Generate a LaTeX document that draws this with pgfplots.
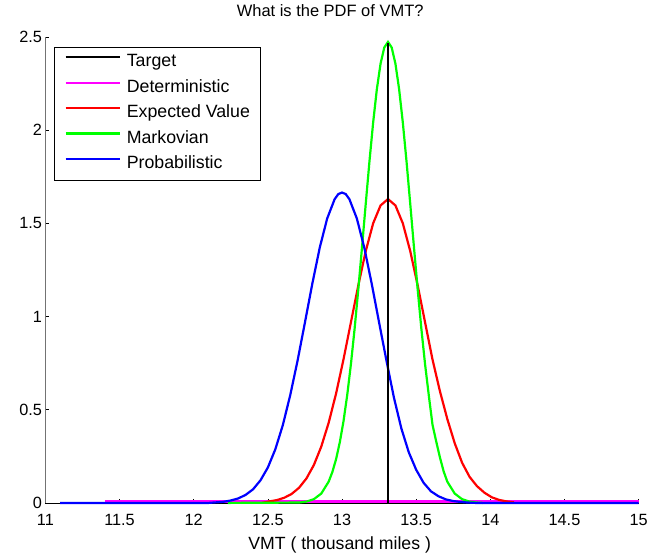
\documentclass[border=0pt]{standalone}
\usepackage{fontspec}
\setmainfont{Liberation Sans}
\usepackage{pgfplots}
\pgfplotsset{compat=1.18}
\definecolor{mag}{rgb}{1,0,1}
\definecolor{grn}{rgb}{0,1,0}
\begin{document}
\begin{tikzpicture}
\begin{axis}[
  scale only axis, width=594.5pt, height=467pt,
  xmin=11, xmax=15, ymin=0, ymax=2.5,
  xtick={11,11.5,...,15}, ytick={0,0.5,...,2.5},
  axis x line=bottom, axis y line=left,
  x axis line style={-, black, line width=0.8pt},
  y axis line style={-, black!55, line width=0.8pt},
  tick align=inside, major tick length=4pt,
  tick style={black, line width=0.6pt},
  /pgf/number format/assume math mode=true,
  ticklabel style={font=\fontsize{16.3}{19}\selectfont},
  xticklabel style={yshift=-7.5pt},
  title={What is the PDF of VMT?},
  title style={at={(rel axis cs:0.48,1)}, anchor=base, yshift=14pt, font=\fontsize{16.5}{19}\selectfont},
  xlabel={VMT ( thousand miles )},
  xlabel style={at={(rel axis cs:0.496,0)}, anchor=base, yshift=-47pt, font=\fontsize{17.7}{20}\selectfont},
  clip=false,
  legend cell align=left,
  legend image code/.code={\draw[#1] (0pt,5.5pt) -- (54pt,5.5pt);},
  legend style={at={(rel axis cs:0.0148,0.979)}, anchor=north west, draw=black, line width=0.6pt,
    font=\fontsize{17.8}{20}\selectfont, inner xsep=10pt, inner ysep=8pt,
    nodes={inner sep=0pt, text height=12pt, text depth=3.5pt}, row sep=10pt,
    /tikz/column sep=6pt},
]
\coordinate (O) at (rel axis cs:0,0);
\addplot[black, line width=2.5pt] coordinates {(13.31,0) (13.31,2.468)};
\addlegendentry{Target}
\addplot[mag, line width=2.2pt] coordinates {(11.4,0.008) (15,0.008)};
\addlegendentry{Deterministic}
\addplot[red, line width=2.2pt] coordinates {
(12.46,0) (12.51,0.008) (12.56,0.015) (12.61,0.0275) (12.66,0.048) (12.71,0.081) (12.76,0.131)
(12.81,0.203) (12.86,0.302) (12.91,0.430) (12.96,0.587) (13.01,0.770) (13.06,0.969)
(13.11,1.168) (13.16,1.351) (13.21,1.500) (13.26,1.596) (13.31,1.630) (13.36,1.596)
(13.41,1.500) (13.46,1.351) (13.51,1.168) (13.56,0.969) (13.61,0.770) (13.66,0.600)
(13.71,0.450) (13.76,0.320) (13.81,0.215) (13.86,0.140) (13.91,0.090) (13.96,0.055)
(14.01,0.030) (14.06,0.016) (14.11,0.008) (14.16,0.003)};
\addlegendentry{Expected Value}
\addplot[grn, line width=2.2pt] coordinates {
(12.23,0) (12.71,0.002) (12.76,0.007) (12.81,0.020) (12.86,0.050) (12.91,0.114)
(12.935,0.166) (12.96,0.235) (12.985,0.325) (13.01,0.438) (13.035,0.578) (13.06,0.744)
(13.085,0.935) (13.11,1.147) (13.135,1.373) (13.16,1.605) (13.185,1.832) (13.21,2.041)
(13.235,2.220) (13.26,2.357) (13.285,2.443) (13.31,2.473) (13.335,2.443) (13.36,2.357)
(13.385,2.220) (13.41,2.041) (13.435,1.832) (13.46,1.605) (13.485,1.373) (13.51,1.147)
(13.535,0.935) (13.56,0.744) (13.585,0.578) (13.61,0.420) (13.635,0.330) (13.66,0.245)
(13.685,0.170) (13.71,0.114) (13.76,0.050) (13.81,0.020) (13.86,0.007) (13.91,0.002) (13.95,0)};
\addlegendentry{Markovian}
\addplot[blue, line width=2.2pt] coordinates {
(11.10,0) (12.10,0) (12.15,0.003) (12.20,0.006) (12.25,0.013) (12.30,0.024) (12.35,0.043)
(12.40,0.073) (12.45,0.121) (12.50,0.190) (12.55,0.287) (12.60,0.415) (12.65,0.575)
(12.70,0.762) (12.75,0.968) (12.80,1.177) (12.85,1.370) (12.90,1.526) (12.95,1.629)
(12.975,1.657) (13.00,1.665) (13.025,1.657) (13.05,1.629) (13.10,1.526) (13.15,1.370) (13.20,1.177) (13.25,0.968)
(13.30,0.762) (13.35,0.565) (13.40,0.400) (13.45,0.272) (13.50,0.178) (13.55,0.108)
(13.60,0.062) (13.65,0.036) (13.70,0.019) (13.75,0.010) (13.80,0.005) (13.85,0.002)
(13.90,0) (15.00,0)};
\addlegendentry{Probabilistic}
\addplot[black, line width=2.5pt, forget plot] coordinates {(13.31,0) (13.31,2.468)};
\end{axis}
\path (O) ++(-45.5pt,-52pt) rectangle ++(651pt,556pt);
\end{tikzpicture}
\end{document}
